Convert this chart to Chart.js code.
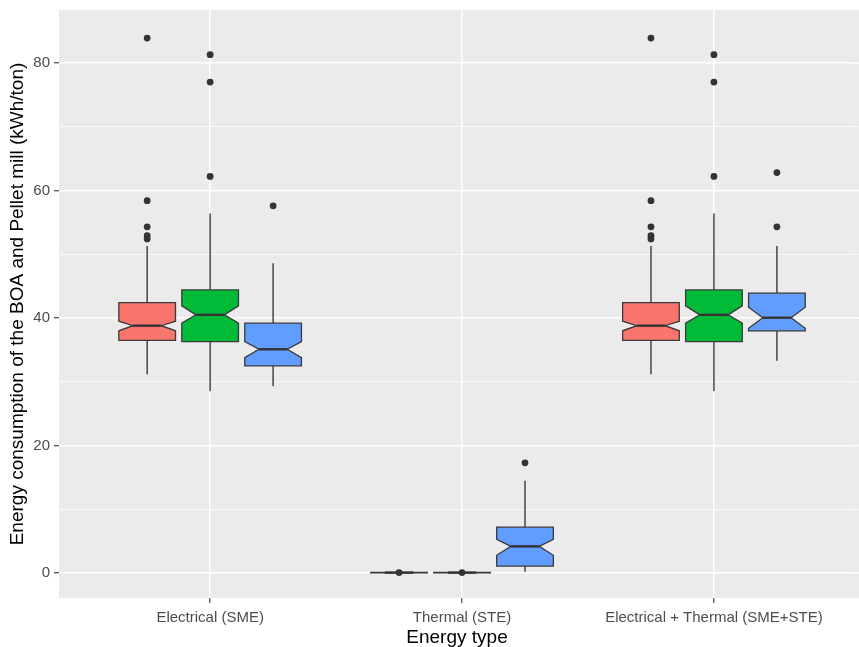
<!DOCTYPE html>
<html><head><meta charset="utf-8">
<script src="https://cdn.jsdelivr.net/npm/chart.js@4.4.1/dist/chart.umd.min.js"></script>
<style>html,body{margin:0;padding:0;background:#fff}</style>
</head><body>
<canvas id="c" width="859" height="647"></canvas>
<script>
const categories = ['Electrical (SME)', 'Thermal (STE)', 'Electrical + Thermal (SME+STE)'];
const seriesColors = ['#F8766D', '#00BA38', '#619CFF'];
// rows = series (red, green, blue); columns = categories
const whiskerLow  = [[31.2, 0.00, 31.2], [28.5, 0.00, 28.5], [29.3, 0.2, 33.3]];
const q1          = [[36.5, 0.04, 36.5], [36.3, 0.04, 36.3], [32.5, 1.1, 38.0]];
const median      = [[38.8, 0.08, 38.8], [40.5, 0.08, 40.5], [35.1, 4.2, 40.05]];
const q3          = [[42.4, 0.13, 42.4], [44.4, 0.13, 44.4], [39.2, 7.2, 43.9]];
const whiskerHigh = [[51.3, 0.25, 51.3], [56.4, 0.25, 56.4], [48.6, 14.5, 51.3]];
const notchLow    = [[38.0, 0.06, 38.0], [39.2, 0.06, 39.2], [33.8, 2.8, 38.4]];
const notchHigh   = [[39.5, 0.10, 39.5], [41.9, 0.10, 41.9], [36.3, 5.3, 41.7]];
const outliers = [
  [[83.9, 58.4, 54.3, 52.9, 52.4], [0.08], [83.9, 58.4, 54.3, 52.9, 52.4]],
  [[81.3, 77.0, 62.2], [0.08], [81.3, 77.0, 62.2]],
  [[57.6], [17.3], [62.8, 54.3]]
];
const yTicks = [0, 10, 20, 30, 40, 50, 60, 70, 80];
const yMajor = [0, 20, 40, 60, 80];

const dodge = [-0.25, 0, 0.25];
const boxHalf = 0.1125;

const datasets = outliers.map((ser, s) => ({
  label: 's' + s,
  data: ser.flatMap((vals, c) => vals.map(v => ({x: c + 1 + dodge[s], y: v}))),
  pointRadius: 3.4,
  pointBackgroundColor: '#333333',
  pointBorderWidth: 0,
  pointBorderColor: '#333333',
  showLine: false
}));

const panelBg = {
  id: 'panelBg',
  beforeDraw(chart) {
    const {ctx, chartArea: a} = chart;
    const ys = chart.scales.y;
    ctx.save();
    ctx.fillStyle = '#EBEBEB';
    ctx.fillRect(a.left, a.top, chart.width - a.left, a.bottom - a.top);
    // continue the horizontal grid lines to the canvas edge
    ctx.strokeStyle = '#FFFFFF';
    yTicks.forEach(v => {
      const py = ys.getPixelForValue(v);
      ctx.lineWidth = yMajor.includes(v) ? 1.5 : 0.75;
      ctx.beginPath();
      ctx.moveTo(a.right - 1, py);
      ctx.lineTo(chart.width, py);
      ctx.stroke();
    });
    ctx.restore();
  }
};

const boxes = {
  id: 'boxes',
  beforeDatasetsDraw(chart) {
    const {ctx, chartArea: a} = chart;
    const xs = chart.scales.x, ys = chart.scales.y;
    ctx.save();
    ctx.beginPath();
    ctx.rect(a.left, a.top, a.right - a.left, a.bottom - a.top);
    ctx.clip();
    for (let s = 0; s < 3; s++) {
      for (let c = 0; c < 3; c++) {
        const xc = c + 1 + dodge[s];
        const px = xs.getPixelForValue(xc);
        const l = xs.getPixelForValue(xc - boxHalf);
        const r = xs.getPixelForValue(xc + boxHalf);
        const nl = xs.getPixelForValue(xc - boxHalf / 2);
        const nr = xs.getPixelForValue(xc + boxHalf / 2);
        const y = v => ys.getPixelForValue(v);
        // whiskers
        ctx.strokeStyle = '#3a3a3a';
        ctx.lineWidth = 1.4;
        ctx.beginPath();
        ctx.moveTo(px, y(q3[s][c])); ctx.lineTo(px, y(whiskerHigh[s][c]));
        ctx.moveTo(px, y(q1[s][c])); ctx.lineTo(px, y(whiskerLow[s][c]));
        ctx.stroke();
        // notched box
        ctx.beginPath();
        ctx.moveTo(l, y(q3[s][c]));
        ctx.lineTo(r, y(q3[s][c]));
        ctx.lineTo(r, y(notchHigh[s][c]));
        ctx.lineTo(nr, y(median[s][c]));
        ctx.lineTo(r, y(notchLow[s][c]));
        ctx.lineTo(r, y(q1[s][c]));
        ctx.lineTo(l, y(q1[s][c]));
        ctx.lineTo(l, y(notchLow[s][c]));
        ctx.lineTo(nl, y(median[s][c]));
        ctx.lineTo(l, y(notchHigh[s][c]));
        ctx.closePath();
        ctx.fillStyle = seriesColors[s];
        ctx.fill();
        ctx.lineWidth = 1.3;
        ctx.strokeStyle = '#3a3a3a';
        ctx.stroke();
        // median
        ctx.beginPath();
        ctx.lineWidth = 2.4;
        ctx.strokeStyle = '#333333';
        ctx.moveTo(nl, y(median[s][c]));
        ctx.lineTo(nr, y(median[s][c]));
        ctx.stroke();
      }
    }
    ctx.restore();
  }
};

const fontFam = "'Liberation Sans', Arial, sans-serif";

new Chart(document.getElementById('c'), {
  type: 'scatter',
  data: {datasets},
  plugins: [panelBg, boxes],
  options: {
    responsive: false,
    animation: false,
    devicePixelRatio: 1,
    layout: {padding: {top: 10, right: 1, left: 0, bottom: 0}},
    plugins: {legend: {display: false}, tooltip: {enabled: false}},
    scales: {
      x: {
        type: 'linear',
        min: 0.4, max: 3.56,
        afterBuildTicks: s => { s.ticks = [1, 2, 3].map(v => ({value: v})); },
        afterFit: s => { s.height = 49; s.paddingLeft = 0; s.paddingRight = 0; },
        ticks: {
          callback: v => categories[v - 1] || '',
          autoSkip: false, maxRotation: 0, minRotation: 0,
          color: '#4D4D4D', padding: 6,
          font: {family: fontFam, size: 15, lineHeight: 1.2}
        },
        grid: {color: '#FFFFFF', lineWidth: 1.5, tickColor: '#333333', tickLength: 5, tickWidth: 1.1},
        border: {display: false},
        title: {display: true, text: 'Energy type', color: '#000000',
          font: {family: fontFam, size: 19, lineHeight: 1}, padding: {top: 0, bottom: 0}}
      },
      y: {
        type: 'linear',
        min: -3.9, max: 88.3,
        afterBuildTicks: s => { s.ticks = yTicks.map(v => ({value: v})); },
        afterFit: s => { s.width = 59; s.paddingTop = 0; s.paddingBottom = 0; },
        ticks: {
          callback: v => yMajor.includes(v) ? String(v) : '',
          color: '#4D4D4D', padding: 4,
          font: {family: fontFam, size: 15, lineHeight: 1.2}
        },
        grid: {
          color: '#FFFFFF',
          lineWidth: ctx => (ctx.tick && yMajor.includes(ctx.tick.value)) ? 1.5 : 0.75,
          tickColor: ctx => (ctx.tick && yMajor.includes(ctx.tick.value)) ? '#333333' : 'rgba(0,0,0,0)',
          tickLength: 5, tickWidth: 1.1
        },
        border: {display: false},
        title: {display: true, text: 'Energy consumption of the BOA and Pellet mill (kWh/ton)', color: '#000000',
          font: {family: fontFam, size: 19, lineHeight: 1}, padding: {top: 8, bottom: 0}}
      }
    }
  }
});
</script>
</body></html>
